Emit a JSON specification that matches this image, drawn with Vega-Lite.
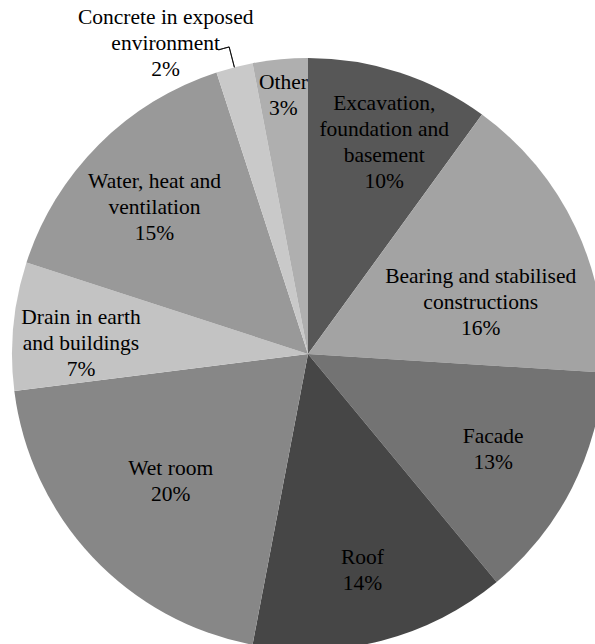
{
  "$schema": "https://vega.github.io/schema/vega-lite/v6.json",
  "width": 574,
  "height": 580,
  "autosize": {"type": "none"},
  "padding": {"left": 21, "top": 64, "right": 0, "bottom": 0},
  "background": "white",
  "config": {"view": {"stroke": null}, "text": {"font": "Liberation Serif", "fontSize": 21.5, "lineHeight": 26, "lineBreak": "\n", "align": "center", "baseline": "middle", "color": "black"}},
  "data": {
    "values": [
      {"order": 1, "cat": "Excavation, foundation and basement", "value": 10, "label": "Excavation,\nfoundation and\nbasement\n10%"},
      {"order": 2, "cat": "Bearing and stabilised constructions", "value": 16, "label": "Bearing and stabilised\nconstructions\n16%"},
      {"order": 3, "cat": "Facade", "value": 13, "label": "Facade\n13%"},
      {"order": 4, "cat": "Roof", "value": 14, "label": "Roof\n14%"},
      {"order": 5, "cat": "Wet room", "value": 20, "label": "Wet room\n20%"},
      {"order": 6, "cat": "Drain in earth and buildings", "value": 7, "label": "Drain in earth\nand buildings\n7%"},
      {"order": 7, "cat": "Water, heat and ventilation", "value": 15, "label": "Water, heat and\nventilation\n15%"},
      {"order": 8, "cat": "Concrete in exposed environment", "value": 2, "label": "Concrete in exposed\nenvironment\n2%"},
      {"order": 9, "cat": "Other", "value": 3, "label": "Other\n3%"}
    ]
  },
  "layer": [
    {
      "mark": {"type": "arc", "radius": 296, "stroke": null},
      "encoding": {
        "theta": {"field": "value", "type": "quantitative", "stack": true, "scale": {"domain": [0, 100]}},
        "order": {"field": "order", "type": "quantitative"},
        "color": {
          "field": "cat",
          "type": "nominal",
          "legend": null,
          "scale": {
            "domain": ["Excavation, foundation and basement", "Bearing and stabilised constructions", "Facade", "Roof", "Wet room", "Drain in earth and buildings", "Water, heat and ventilation", "Concrete in exposed environment", "Other"],
            "range": ["#575757", "#a3a3a3", "#737373", "#464646", "#878787", "#c3c3c3", "#999999", "#c9c9c9", "#afafaf"]
          }
        }
      }
    },
    {
      "transform": [{"stack": "value", "groupby": [], "sort": [{"field": "order"}], "as": ["v0", "v1"]}],
      "mark": {"type": "arc", "radius": 317, "radius2": 296, "thetaOffset": 0.06283, "theta2Offset": 0.06283, "fillOpacity": 0, "stroke": "black", "strokeWidth": 0.8},
      "encoding": {
        "theta": {"field": "v0", "type": "quantitative", "scale": {"domain": [0, 100]}},
        "theta2": {"field": "v0"},
        "strokeOpacity": {"condition": {"test": "datum.cat === 'Concrete in exposed environment'", "value": 1}, "value": 0}
      }
    },
    {
      "transform": [{"stack": "value", "groupby": [], "sort": [{"field": "order"}], "as": ["v0", "v1"]}],
      "mark": {"type": "arc", "radius": 317, "radius2": 317, "thetaOffset": 0.0281, "theta2Offset": 0.06283, "fillOpacity": 0, "stroke": "black", "strokeWidth": 0.8},
      "encoding": {
        "theta": {"field": "v0", "type": "quantitative", "scale": {"domain": [0, 100]}},
        "theta2": {"field": "v0"},
        "strokeOpacity": {"condition": {"test": "datum.cat === 'Concrete in exposed environment'", "value": 1}, "value": 0}
      }
    },
    {
      "mark": {"type": "text", "radius": 224, "dx": 7, "dy": -37},
      "encoding": {
        "theta": {"field": "value", "type": "quantitative", "stack": true},
        "order": {"field": "order", "type": "quantitative"},
        "text": {"condition": {"test": "datum.cat === 'Excavation, foundation and basement'", "field": "label"}, "value": ""}
      }
    },
    {
      "mark": {"type": "text", "radius": 182, "dx": 8, "dy": 0},
      "encoding": {
        "theta": {"field": "value", "type": "quantitative", "stack": true},
        "order": {"field": "order", "type": "quantitative"},
        "text": {"condition": {"test": "datum.cat === 'Bearing and stabilised constructions'", "field": "label"}, "value": ""}
      }
    },
    {
      "mark": {"type": "text", "radius": 210, "dx": -2, "dy": -12},
      "encoding": {
        "theta": {"field": "value", "type": "quantitative", "stack": true},
        "order": {"field": "order", "type": "quantitative"},
        "text": {"condition": {"test": "datum.cat === 'Facade'", "field": "label"}, "value": ""}
      }
    },
    {
      "mark": {"type": "text", "radius": 210, "dx": -5, "dy": -24},
      "encoding": {
        "theta": {"field": "value", "type": "quantitative", "stack": true},
        "order": {"field": "order", "type": "quantitative"},
        "text": {"condition": {"test": "datum.cat === 'Water, heat and ventilation'", "field": "label"}, "value": ""}
      }
    },
    {
      "mark": {"type": "text", "radius": 223, "dx": -1, "dy": -12},
      "encoding": {
        "theta": {"field": "value", "type": "quantitative", "stack": true},
        "order": {"field": "order", "type": "quantitative"},
        "text": {"condition": {"test": "datum.cat === 'Roof'", "field": "label"}, "value": ""}
      }
    },
    {
      "mark": {"type": "text", "radius": 187, "dx": -1, "dy": -13},
      "encoding": {
        "theta": {"field": "value", "type": "quantitative", "stack": true},
        "order": {"field": "order", "type": "quantitative"},
        "text": {"condition": {"test": "datum.cat === 'Wet room'", "field": "label"}, "value": ""}
      }
    },
    {
      "mark": {"type": "text", "radius": 228, "dy": -15},
      "encoding": {
        "theta": {"field": "value", "type": "quantitative", "stack": true},
        "order": {"field": "order", "type": "quantitative"},
        "text": {"condition": {"test": "datum.cat === 'Drain in earth and buildings'", "field": "label"}, "value": ""}
      }
    },
    {
      "mark": {"type": "text", "radius": 261, "dy": -11},
      "encoding": {
        "theta": {"field": "value", "type": "quantitative", "stack": true},
        "order": {"field": "order", "type": "quantitative"},
        "text": {"condition": {"test": "datum.cat === 'Other'", "field": "label"}, "value": ""}
      }
    },
    {
      "mark": {"type": "text", "radius": 335, "dx": -59, "dy": -12},
      "encoding": {
        "theta": {"field": "value", "type": "quantitative", "stack": true},
        "order": {"field": "order", "type": "quantitative"},
        "text": {"condition": {"test": "datum.cat === 'Concrete in exposed environment'", "field": "label"}, "value": ""}
      }
    }
  ]
}
